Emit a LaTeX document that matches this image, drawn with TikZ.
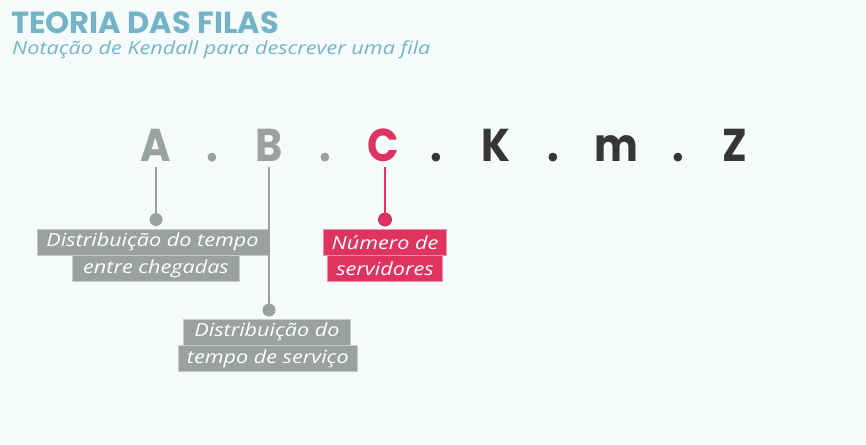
\documentclass[tikz,border=0pt]{standalone}
\usepackage{fontspec}
\setmainfont{Open Sans}
\newfontfamily\titlefont{Poppins}[FakeStretch=0.9]
\newfontfamily\headfont{Poppins}
\newfontfamily\handfont{Open Sans}[FakeStretch=1.2]
\definecolor{fundo}{HTML}{F5FBFB}
\definecolor{azultitulo}{HTML}{74B4C6}
\definecolor{cinza}{HTML}{99A1A1}
\definecolor{vermelho}{HTML}{DF3460}
\definecolor{escuro}{HTML}{363636}
\tikzset{
  letra/.style={anchor=base, inner xsep=0pt, inner ysep=6pt, text=#1,
    font=\titlefont\bfseries\fontsize{46}{46}\selectfont},
  ponto/.style={anchor=base, inner sep=0pt, text=#1,
    font=\titlefont\bfseries\fontsize{46}{46}\selectfont},
  rotulo/.style={fill=#1, draw=#1!55!white, line width=0.8pt, text=white,
    inner sep=0pt, minimum height=26.3,
    font=\handfont\itshape\fontsize{18}{18}\selectfont},
  haste/.style={draw=#1, line width=2pt},
  bola/.style={circle, fill=#1, inner sep=0pt, minimum size=13}
}
\begin{document}
\begin{tikzpicture}[x=1pt, y=-1pt]
  \fill[fundo] (0,0) rectangle (866,444);
  \useasboundingbox (0,0) rectangle (866,444);

  % titulo
  \node[anchor=base west, inner sep=0pt, text=azultitulo,
    font=\headfont\bfseries\fontsize{30.5}{30.5}\selectfont] (titulo) at (11,33.5) {TEORIA DAS FILAS};
  \node[anchor=base west, inner sep=0pt, text=azultitulo,
    font=\handfont\itshape\fontsize{18}{18}\selectfont] (subtitulo) at (12,55) {Notação de Kendall para descrever uma fila};

  % notacao A.B.C.K.m.Z
  \node[letra=cinza] (A) at (156,161) {A};
  \node[ponto=cinza] (p1) at (212.5,161) {.};
  \node[letra=cinza] (B) at (269,161) {B};
  \node[ponto=cinza] (p2) at (325,161) {.};
  \node[letra=vermelho] (C) at (383,161) {C};
  \node[ponto=escuro] (p3) at (436,161) {.};
  \node[letra=escuro] (K) at (496,161) {K};
  \node[ponto=escuro] (p4) at (553,161) {.};
  \node[letra=escuro] (m) at (616,161) {m};
  \node[ponto=escuro] (p5) at (678,161) {.};
  \node[letra=escuro] (Z) at (735,161) {Z};

  % rotulos
  \node[rotulo=cinza, minimum width=231] (rA1) at (152.5,242.3) {Distribuição do tempo};
  \node[rotulo=cinza, minimum width=166.5] (rA2) at (156,268.5) {entre chegadas};
  \node[rotulo=cinza, minimum width=167.5] (rB1) at (267,332.3) {Distribuição do};
  \node[rotulo=cinza, minimum width=179] (rB2) at (267.8,358.7) {tempo de serviço};
  \node[rotulo=vermelho, minimum width=123.5] (rC1) at (385,242.5) {Número de};
  \node[rotulo=vermelho, minimum width=115.5] (rC2) at (385,268.7) {servidores};

  % hastes
  \node[bola=cinza] (bA) at (156,219.5) {};
  \node[bola=cinza] (bB) at (269,310) {};
  \node[bola=vermelho, draw=vermelho!80!black, line width=0.8pt] (bC) at (385,219.5) {};
  \draw[haste=cinza] (A.south) -- (bA.center);
  \draw[haste=cinza] (B.south) -- (bB.center);
  \draw[haste=vermelho] ([xshift=2]C.south) -- (bC.center);
\end{tikzpicture}
\end{document}
